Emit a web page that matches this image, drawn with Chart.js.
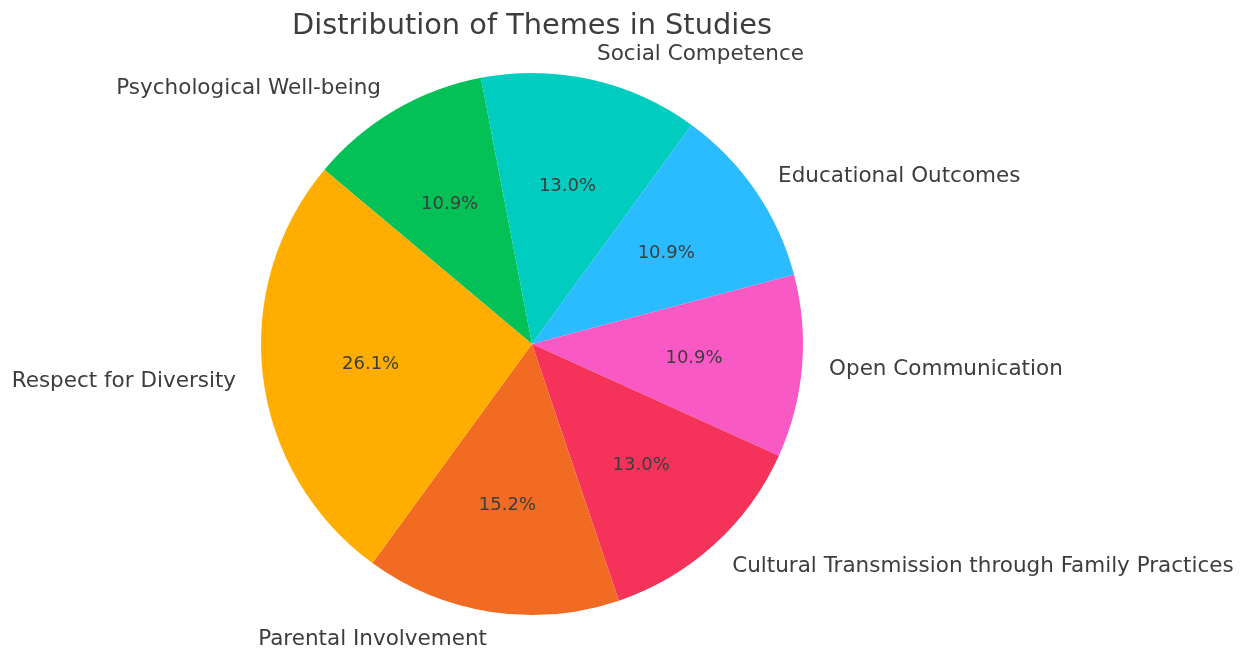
<!DOCTYPE html>
<html>
<head>
<meta charset="utf-8">
<title>Distribution of Themes in Studies</title>
<script src="https://cdn.jsdelivr.net/npm/chart.js@4.4.0/dist/chart.umd.min.js"></script>
<style>
  html, body { margin: 0; padding: 0; background: #fff; }
  #wrap { width: 1242px; height: 650px; }
</style>
</head>
<body>
<div id="wrap"><canvas id="themes"></canvas></div>
<script>
// data, in the order of the original chart (counter-clockwise from the upper left)
var themes = [
    "Respect for Diversity",
    "Parental Involvement",
    "Cultural Transmission through Family Practices",
    "Open Communication",
    "Educational Outcomes",
    "Social Competence",
    "Psychological Well-being"
];
var studyCounts = [12, 7, 6, 5, 5, 6, 5];
var themeColors = ["#FFAE00", "#F26B22", "#F53259", "#F859C4", "#2BBCFF", "#00CCC0", "#03C157"];

// chart.js goes clockwise, the original goes the other way round
var labelsCw = themes.slice().reverse();
var countsCw = studyCounts.slice().reverse();
var colorsCw = themeColors.slice().reverse();

var textColor = "#3d3d3d";
var fontFamily = "'DejaVu Sans', sans-serif";

/* labels outside the pie and percentages inside, like matplotlib */
var pieText = {
    id: 'pieText',
    afterDatasetsDraw: function(chart) {
        var ctx = chart.ctx;
        var meta = chart.getDatasetMeta(0);
        var data = chart.data.datasets[0].data;
        var total = data.reduce(function(a, b) { return a + b; }, 0);
        ctx.save();
        ctx.fillStyle = textColor;
        ctx.textBaseline = 'middle';
        meta.data.forEach(function(arc, i) {
            var p = arc.getProps(['x', 'y', 'startAngle', 'endAngle', 'outerRadius'], true);
            var mid = (p.startAngle + p.endAngle) / 2;
            var c = Math.cos(mid), s = Math.sin(mid);

            ctx.font = "21.5px " + fontFamily;
            ctx.textAlign = c >= 0 ? 'left' : 'right';
            ctx.fillText(chart.data.labels[i], p.x + c * p.outerRadius * 1.1, p.y + s * p.outerRadius * 1.1 + 1);

            ctx.font = "18px " + fontFamily;
            ctx.textAlign = 'center';
            var pct = (data[i] / total * 100).toFixed(1) + '%';
            ctx.fillText(pct, p.x + c * p.outerRadius * 0.6, p.y + s * p.outerRadius * 0.6 + 1);
        });
        // title
        ctx.font = "28.8px " + fontFamily;
        ctx.textAlign = 'center';
        ctx.fillText("Distribution of Themes in Studies", 532, 27);
        ctx.restore();
    }
};

var ctxThemes = document.getElementById("themes");
var chartThemes = new Chart(ctxThemes, {
    type: 'pie',
    data: {
        labels: labelsCw,
        datasets: [{
            data: countsCw,
            backgroundColor: colorsCw,
            borderWidth: 0,
            hoverOffset: 0
        }]
    },
    options: {
        responsive: true,
        maintainAspectRatio: false,
        animation: false,
        rotation: -50,
        radius: 271,
        layout: {
            padding: { top: 73, bottom: 35, left: 200, right: 378 }
        },
        plugins: {
            legend: { display: false },
            title: { display: false },
            tooltip: { enabled: false }
        }
    },
    plugins: [pieText]
});
</script>
</body>
</html>
